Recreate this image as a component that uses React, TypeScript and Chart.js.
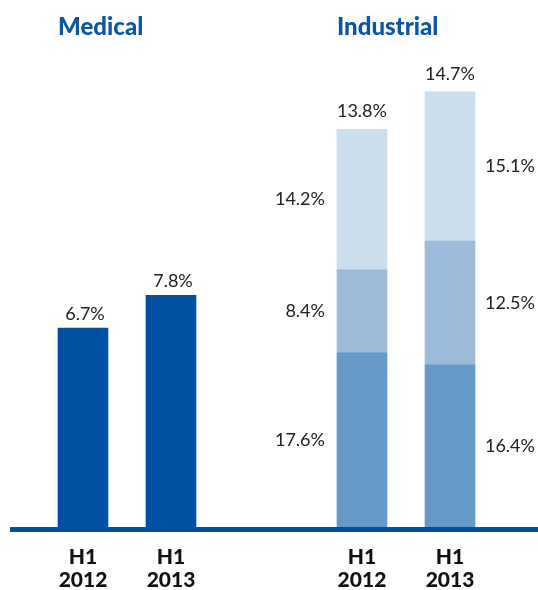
import React, { useEffect, useRef } from "react";
import { Chart, registerables } from "chart.js";

Chart.register(...registerables);

// ---- data ----
const groupTitles = ["Medical", "Industrial"];
const periods = ["H1 2012", "H1 2013"];
const medicalValues = [6.7, 7.8];
const industrialBottom = [17.6, 16.4];
const industrialMiddle = [8.4, 12.5];
const industrialTop = [14.2, 15.1];
const industrialTotals = [13.8, 14.7];

// ---- layout (slot positions on the x scale) ----
const medicalSlots = [1, 2];
const industrialSlots = [4.17, 5.17];

const FONT = "Lato, 'Open Sans', sans-serif";
const BLUE = "#0052a0";

const fmt = (v: number) => v.toFixed(1) + "%";

const labelPlugin = {
  id: "customLabels",
  afterDraw(chart: any) {
    const ctx = chart.ctx;
    const area = chart.chartArea;
    ctx.save();

    // base line
    ctx.fillStyle = BLUE;
    ctx.fillRect(10, area.bottom, chart.width - 10, 5);

    const medMeta = chart.getDatasetMeta(0);
    const indMetas = [1, 2, 3].map((i) => chart.getDatasetMeta(i));

    // group titles
    ctx.font = `900 24px ${FONT}`;
    ctx.fillStyle = "#0b56a3";
    ctx.textAlign = "left";
    ctx.textBaseline = "alphabetic";
    const m0 = medMeta.data[0];
    const i0 = indMetas[0].data[0];
    ctx.fillText(groupTitles[0], m0.x - m0.width / 2, 35);
    ctx.fillText(groupTitles[1], i0.x - i0.width / 2, 35);

    // value labels
    ctx.font = `18px ${FONT}`;
    ctx.fillStyle = "#222";
    ctx.textAlign = "center";
    medMeta.data.forEach((bar: any, i: number) => {
      ctx.fillText(fmt(medicalValues[i]), bar.x + 2, bar.y - 8);
    });

    const topMeta = indMetas[2];
    topMeta.data.forEach((bar: any, i: number) => {
      ctx.fillText(fmt(industrialTotals[i]), bar.x, bar.y - 12);
    });

    const series = [industrialBottom, industrialMiddle, industrialTop];
    ctx.textBaseline = "middle";
    indMetas.forEach((meta: any, s: number) => {
      meta.data.forEach((bar: any, i: number) => {
        const cy = (bar.y + bar.base) / 2;
        if (i === 0) {
          ctx.textAlign = "right";
          ctx.fillText(fmt(series[s][i]), bar.x - bar.width / 2 - 12, cy);
        } else {
          ctx.textAlign = "left";
          ctx.fillText(fmt(series[s][i]), bar.x + bar.width / 2 + 10, cy);
        }
      });
    });
    ctx.restore();
  },
};

export default function App() {
  const ref = useRef<HTMLCanvasElement>(null);

  useEffect(() => {
    document.body.style.margin = "0";
    const allSlots = [...medicalSlots, ...industrialSlots];
    const chart = new Chart(ref.current!, {
      type: "bar",
      data: {
        datasets: [
          {
            label: groupTitles[0],
            data: medicalSlots.map((x, i) => ({ x, y: medicalValues[i] })),
            backgroundColor: BLUE,
            yAxisID: "y",
            grouped: false,
            barThickness: 50,
          },
          {
            label: "Industrial bottom",
            data: industrialSlots.map((x, i) => ({ x, y: industrialBottom[i] })),
            backgroundColor: "#6699c8",
            yAxisID: "y2",
            grouped: false,
            barThickness: 50,
          },
          {
            label: "Industrial middle",
            data: industrialSlots.map((x, i) => ({ x, y: industrialMiddle[i] })),
            backgroundColor: "#9bbbd8",
            yAxisID: "y2",
            grouped: false,
            barThickness: 50,
          },
          {
            label: "Industrial top",
            data: industrialSlots.map((x, i) => ({ x, y: industrialTop[i] })),
            backgroundColor: "#cbdeee",
            yAxisID: "y2",
            grouped: false,
            barThickness: 50,
          },
        ] as any,
      },
      options: {
        animation: false,
        responsive: true,
        maintainAspectRatio: false,
        layout: { padding: 0 },
        plugins: { legend: { display: false }, tooltip: { enabled: false } },
        scales: {
          x: {
            type: "linear",
            min: 0.057,
            max: 6.17,
            offset: false,
            grid: { display: false, drawTicks: false },
            border: { display: false },
            afterBuildTicks: (axis: any) => {
              axis.ticks = allSlots.map((v) => ({ value: v }));
            },
            afterFit: (axis: any) => {
              axis.height = 63;
            },
            ticks: {
              autoSkip: false,
              maxRotation: 0,
              padding: 19,
              color: "#111",
              font: { family: FONT, size: 21, weight: "900", lineHeight: 1.1 },
              callback: (_v: any, index: number) => periods[index % 2].split(" "),
            },
          },
          y: { display: false, min: 0, max: 17.74 },
          y2: { display: false, min: 0, max: 53.29, stacked: true },
        },
      } as any,
      plugins: [labelPlugin],
    });
    return () => chart.destroy();
  }, []);

  return (
    <div style={{ width: 538, height: 590, position: "relative" }}>
      <canvas ref={ref} />
    </div>
  );
}
